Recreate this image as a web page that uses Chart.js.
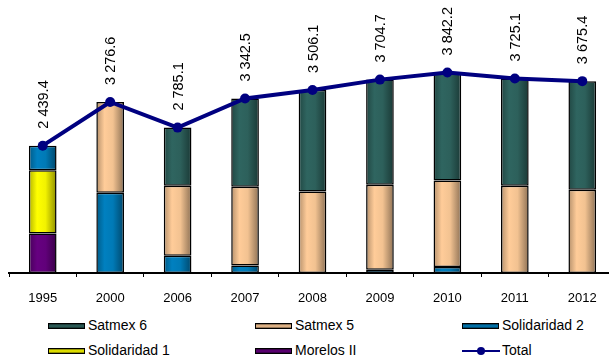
<!DOCTYPE html>
<html>
<head>
<meta charset="utf-8">
<script src="https://cdn.jsdelivr.net/npm/chart.js@4"></script>
<style>
    html, body { margin: 0; padding: 0; background: #fff; overflow: hidden; width: 609px; height: 358px; }
    #wrap { position: absolute; left: 0; top: 0; width: 621px; height: 312px; }
    .leg { position: absolute; height: 20px; font: 14px "Liberation Sans", Arial, sans-serif; color: #000; white-space: nowrap; }
    .leg .sw { position: absolute; left: 0; top: 7px; width: 35px; height: 4px; border: 1px solid #000; }
    .leg .ln { position: absolute; left: 0; top: 9px; width: 38px; height: 2px; background: #000080; }
    .leg .dot { position: absolute; left: 15px; top: 6px; width: 8px; height: 8px; border-radius: 50%; background: #000080; }
    .leg span { position: absolute; left: 40px; top: 1px; }
</style>
</head>
<body>
<div id="wrap"><canvas id="satChart" width="621" height="312"></canvas></div>
<div id="legend"></div>
<script>
// Categories and series
var years = ['1995', '2000', '2006', '2007', '2008', '2009', '2010', '2011', '2012'];
var morelos2 = [759, null, null, null, null, null, null, null, null];
var solidaridad1 = [1207, null, null, null, null, null, null, null, null];
var solidaridad2 = [473, 1538, 331, 146, null, 63, 115, null, null];
var satmex5 = [null, 1738.6, 1341, 1507, 1563, 1629, 1659, 1672, 1596];
var satmex6 = [null, null, 1113, 1689.5, 1943, 2012.7, 2068, 2053, 2079];
var totals = [2439.4, 3276.6, 2785.1, 3342.5, 3506.1, 3704.7, 3842.2, 3725.1, 3675.4];

function shade(hex, f) {
    var n = parseInt(hex.slice(1), 16);
    var r = Math.round(((n >> 16) & 255) * f), g = Math.round(((n >> 8) & 255) * f), b = Math.round((n & 255) * f);
    return 'rgb(' + r + ',' + g + ',' + b + ')';
}

// horizontal gradient across each bar, like the old 3D office look
function barFill(base) {
    return function (ctx) {
        var chart = ctx.chart;
        if (!chart.chartArea || ctx.type !== 'data') return base;
        var x = chart.scales.x.getPixelForValue(ctx.dataIndex);
        var g = chart.ctx.createLinearGradient(x - 14, 0, x + 14, 0);
        g.addColorStop(0, shade(base, 0.7));
        g.addColorStop(0.3, shade(base, 1));
        g.addColorStop(0.6, shade(base, 0.95));
        g.addColorStop(1, shade(base, 0.55));
        return g;
    };
}

function fmt(v) {
    var parts = v.toFixed(1).split('.');
    return parts[0].replace(/\B(?=(\d{3})+(?!\d))/g, ' ') + '.' + parts[1];
}

var barSeries = [
    { label: 'Morelos II', data: morelos2, color: '#660080' },
    { label: 'Solidaridad 1', data: solidaridad1, color: '#FFFF00' },
    { label: 'Solidaridad 2', data: solidaridad2, color: '#0080C0' },
    { label: 'Satmex 5', data: satmex5, color: '#FFCC99' },
    { label: 'Satmex 6', data: satmex6, color: '#2F6560' }
];

var datasets = barSeries.map(function (s) {
    return {
        type: 'bar',
        label: s.label,
        data: s.data,
        backgroundColor: barFill(s.color),
        borderColor: '#000',
        borderWidth: 1.5,
        borderSkipped: false,
        barPercentage: 0.41,
        categoryPercentage: 1,
        order: 1
    };
});
datasets.push({
    type: 'line',
    label: 'Total',
    data: totals,
    stack: 'total',
    borderColor: '#000080',
    backgroundColor: '#000080',
    borderWidth: 4,
    pointRadius: 5,
    pointHoverRadius: 5,
    pointBackgroundColor: '#000080',
    pointBorderWidth: 0,
    tension: 0,
    clip: false,
    order: 0
});

// Rotated value labels above the total line
var totalLabels = {
    id: 'totalLabels',
    afterDatasetsDraw: function (chart) {
        var idx = chart.data.datasets.length - 1;
        var meta = chart.getDatasetMeta(idx);
        var c = chart.ctx;
        c.save();
        c.font = '14.5px "Liberation Sans", Arial, sans-serif';
        c.fillStyle = '#000';
        c.textAlign = 'left';
        c.textBaseline = 'middle';
        meta.data.forEach(function (pt, i) {
            c.save();
            c.translate(pt.x + 1, pt.y - 17);
            c.rotate(-Math.PI / 2);
            c.fillText(fmt(totals[i]), 0, 0);
            c.restore();
        });
        c.restore();
    }
};

var ctx = document.getElementById('satChart').getContext('2d');
var satChart = new Chart(ctx, {
    data: { labels: years, datasets: datasets },
    options: {
        responsive: false,
        animation: false,
        layout: { padding: { left: 9, right: 0, top: 12, bottom: 0 } },
        plugins: {
            legend: { display: false },
            tooltip: { enabled: false }
        },
        scales: {
            x: {
                stacked: true,
                grid: { display: true, drawOnChartArea: false, tickLength: 4, color: '#000', lineWidth: 1 },
                border: { display: true, color: '#000', width: 2 },
                ticks: { color: '#000', padding: 14, font: { family: '"Liberation Sans", Arial, sans-serif', size: 13 } },
                afterFit: function (scale) { scale.height = 39; }
            },
            y: {
                stacked: true,
                display: false,
                min: 0,
                max: 5000
            }
        }
    },
    plugins: [totalLabels]
});

// Legend in three columns, built from the series
var legendOrder = [
    barSeries[4], barSeries[3], barSeries[2],
    barSeries[1], barSeries[0], { label: 'Total', line: true }
];
var colX = [48, 255, 462];
var rowY = [316, 341];
var legendEl = document.getElementById('legend');
legendOrder.forEach(function (s, i) {
    var item = document.createElement('div');
    item.className = 'leg';
    item.style.left = colX[i % 3] + 'px';
    item.style.top = rowY[Math.floor(i / 3)] + 'px';
    if (s.line) {
        item.innerHTML = '<div class="ln"></div><div class="dot"></div>';
    } else {
        var sw = document.createElement('div');
        sw.className = 'sw';
        sw.style.background = 'linear-gradient(to bottom, ' + shade(s.color, 0.45) + ', ' + s.color + ', ' + shade(s.color, 0.45) + ')';
        item.appendChild(sw);
    }
    var t = document.createElement('span');
    t.textContent = s.label;
    item.appendChild(t);
    legendEl.appendChild(item);
});
</script>
</body>
</html>
